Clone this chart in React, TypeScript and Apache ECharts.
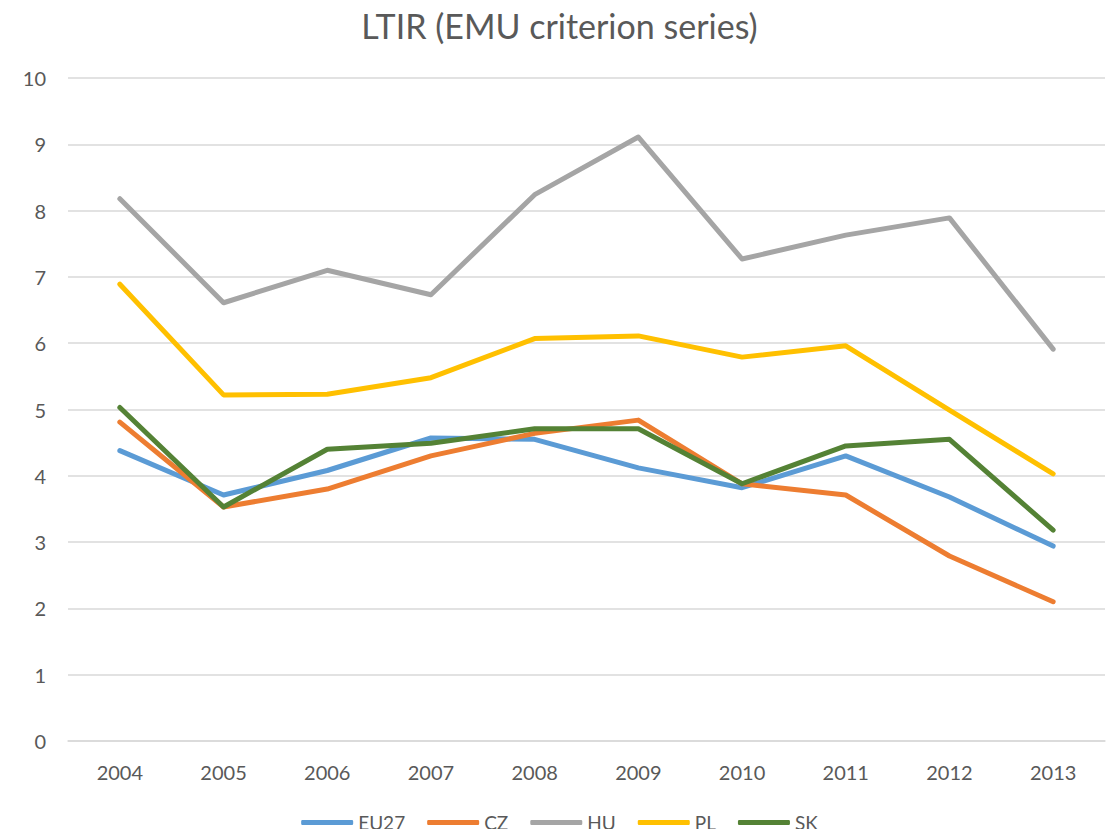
import React, { useEffect, useRef } from "react";
import * as echarts from "echarts";

const years = ["2004", "2005", "2006", "2007", "2008", "2009", "2010", "2011", "2012", "2013"];
const eu27 = [4.38, 3.71, 4.08, 4.57, 4.55, 4.12, 3.82, 4.30, 3.68, 2.94];
const cz = [4.81, 3.53, 3.80, 4.30, 4.64, 4.84, 3.88, 3.71, 2.79, 2.10];
const hu = [8.18, 6.61, 7.10, 6.73, 8.24, 9.11, 7.27, 7.63, 7.89, 5.91];
const pl = [6.89, 5.22, 5.23, 5.48, 6.07, 6.11, 5.79, 5.96, 4.99, 4.03];
const sk = [5.03, 3.53, 4.40, 4.49, 4.71, 4.71, 3.88, 4.45, 4.55, 3.18];

const seriesDefs = [
  { name: "EU27", data: eu27, color: "#5B9BD5" },
  { name: "CZ", data: cz, color: "#ED7D31" },
  { name: "HU", data: hu, color: "#A5A5A5" },
  { name: "PL", data: pl, color: "#FFC000" },
  { name: "SK", data: sk, color: "#548235" },
];

const FONT = "Lato, 'Open Sans', sans-serif";

export default function App() {
  const ref = useRef<HTMLDivElement>(null);
  useEffect(() => {
    if (!ref.current) return;
    const chart = echarts.init(ref.current, undefined, { renderer: "svg" });
    chart.setOption({
      animation: false,
      backgroundColor: "#ffffff",
      textStyle: { fontFamily: FONT },
      title: {
        text: "LTIR (EMU criterion series)",
        left: "center",
        top: 3,
        textStyle: { fontFamily: FONT, fontSize: 34, fontWeight: "normal", color: "#595959" },
      },
      legend: {
        bottom: 0,
        left: "center",
        icon: "roundRect",
        itemWidth: 52,
        itemHeight: 5,
        itemGap: 22,
        textStyle: { fontFamily: FONT, fontSize: 19, color: "#595959" },
        data: seriesDefs.map((s) => s.name),
      },
      grid: { left: 68, right: 14, top: 78, bottom: 96, containLabel: false },
      xAxis: {
        type: "category",
        data: years,
        boundaryGap: true,
        axisLine: { lineStyle: { color: "#D9D9D9", width: 1.5 } },
        axisTick: { show: false },
        axisLabel: { fontFamily: FONT, fontSize: 20, color: "#595959", margin: 21 },
      },
      yAxis: {
        type: "value",
        min: 0,
        max: 10,
        interval: 1,
        axisLine: { show: false },
        axisTick: { show: false },
        splitLine: { lineStyle: { color: "#D9D9D9", width: 1.5 } },
        axisLabel: { fontFamily: FONT, fontSize: 20, color: "#595959", margin: 22 },
      },
      series: seriesDefs.map((s) => ({
        name: s.name,
        type: "line",
        data: s.data,
        symbol: "none",
        color: s.color,
        lineStyle: { width: 5, color: s.color, cap: "round", join: "round" },
      })),
    });
    return () => chart.dispose();
  }, []);
  return <div ref={ref} style={{ width: 1119, height: 837, margin: -8 }} />;
}
